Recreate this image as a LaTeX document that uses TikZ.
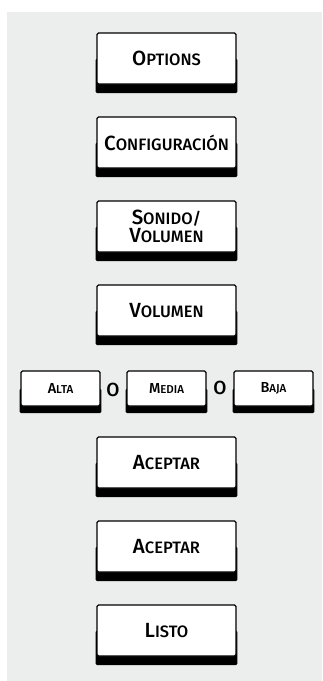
\documentclass[tikz,border=0pt]{standalone}
\usepackage{fontspec}
\setmainfont{Fira Sans}[UprightFont={* Medium}]
\usetikzlibrary{positioning, backgrounds}
\definecolor{bgGray}{RGB}{236,237,237}
% fake small caps: first letter big, rest small
\newcommand\capit[2]{#1{\capsmall #2}}

\begin{document}
\begin{tikzpicture}[x=1pt, y=1pt,
    key/.style={draw=black, line width=1.4pt, fill=white, rounded corners=1.5pt,
      minimum width=139pt, minimum height=51pt, inner sep=0pt, align=center,
      font=\fontsize{20.5}{18}\selectfont\def\capsmall{\fontsize{16.5}{18}\selectfont}},
    smallkey/.style={key, minimum width=79pt, minimum height=35pt,
      font=\fontsize{14.5}{15}\selectfont\def\capsmall{\fontsize{11.5}{15}\selectfont}},
    ortext/.style={font=\fontsize{19}{19}\selectfont, inner sep=0pt}
  ]
  \useasboundingbox (0,0) rectangle (322,-681);
  % main steps
  \node[key] (options) at (166.5,-58.5) {\capit{O}{PTIONS}};
  \node[key] (config) at (166.5,-142.5) {\capit{C}{ONFIGURACIÓN}};
  \node[key] (sonido) at (166.5,-226.5) {\capit{S}{ONIDO/}\\\capit{V}{OLUMEN}};
  \node[key] (volumen) at (166.5,-310.5) {\capit{V}{OLUMEN}};
  % choice row
  \node[smallkey] (alta) at (60.5,-388.5) {\capit{A}{LTA}};
  \node[smallkey] (media) at (166.5,-388.5) {\capit{M}{EDIA}};
  \node[smallkey] (baja) at (273.5,-388.5) {\capit{B}{AJA}};
  \node[ortext] (orA) at (113,-390) {O};
  \node[ortext] (orB) at (220,-388) {O};
  % confirm
  \node[key] (aceptarA) at (166.5,-462.5) {\capit{A}{CEPTAR}};
  \node[key] (aceptarB) at (166.5,-546.5) {\capit{A}{CEPTAR}};
  \node[key] (listo) at (166.5,-630.5) {\capit{L}{ISTO}};
  \begin{pgfonlayer}{background}
    \fill[bgGray] (7,-12) rectangle (322,-681);
    % black bar under each key
    \foreach \k in {options,config,sonido,volumen,aceptarA,aceptarB,listo}
      \fill[rounded corners=1.5pt] ([xshift=-0.7pt]\k.west)
        rectangle ([xshift=0.7pt,yshift=-8.5pt]\k.south east);
    \foreach \k in {alta,media,baja}
      \fill[rounded corners=1.5pt] ([xshift=-0.7pt]\k.west)
        rectangle ([xshift=0.7pt,yshift=-6.5pt]\k.south east);
  \end{pgfonlayer}
\end{tikzpicture}
\end{document}
